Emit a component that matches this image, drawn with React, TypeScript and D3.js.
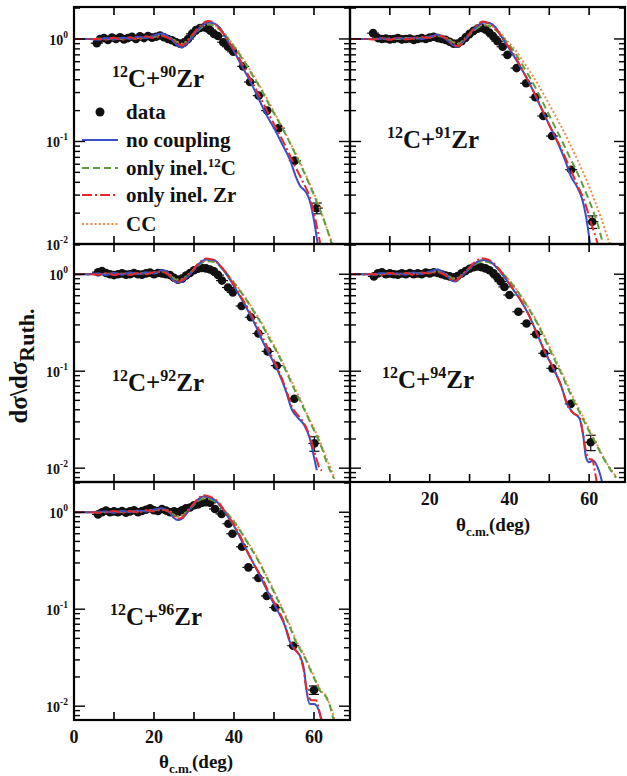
import React from 'react';
import * as d3 from 'd3';

type P = [number, number];
type D = [number, number, number];

const FONT = '"Liberation Serif", "Times New Roman", serif';

// shared axis settings
const thetaDomain: [number, number] = [0, 69];
const thetaTicks = [10, 20, 30, 40, 50, 60];

// ---- measured elastic ratios: [theta, dσ/dσRuth, relative error] ----
const data90: D[] = [[5.7,0.91,0.03],[6.5,1.0,0.03],[7.5,1.02,0.03],[8.5,0.98,0.03],[9.5,1.03,0.03],[10.5,1.0,0.03],[11.5,1.04,0.03],[12.5,0.99,0.03],[13.5,1.02,0.03],[14.5,1.05,0.03],[15.5,1.0,0.03],[16.5,1.06,0.03],[17.5,1.02,0.03],[18.5,1.07,0.03],[19.5,1.03,0.03],[20.5,1.05,0.03],[21.5,1.08,0.03],[22.5,1.04,0.03],[23.5,1.0,0.03],[24.5,0.97,0.03],[25.5,0.93,0.03],[26.5,0.9,0.03],[27.5,0.92,0.03],[28.5,1.0,0.03],[29.5,1.12,0.03],[30.5,1.22,0.03],[31.5,1.28,0.03],[32.5,1.3,0.03],[33.3,1.27,0.03],[34,1.22,0.03],[35,1.12,0.03],[36,1.07,0.03],[37.3,0.93,0.04],[38.5,0.84,0.04],[39.8,0.75,0.04],[42.3,0.54,0.05],[44,0.38,0.05],[46.2,0.28,0.05],[48.3,0.2,0.05],[51.2,0.135,0.06],[55.2,0.065,0.07],[60.7,0.0224,0.12]];
const data91: D[] = [[5.8,1.14,0.03],[7,1.02,0.03],[8,1.0,0.03],[9,1.01,0.03],[10,0.99,0.03],[11,1.0,0.03],[12,1.02,0.03],[13,0.99,0.03],[14,1.0,0.03],[15,1.01,0.03],[16,0.98,0.03],[17,1.0,0.03],[18,1.02,0.03],[19,1.0,0.03],[20,1.03,0.03],[21,1.05,0.03],[22,1.02,0.03],[23,1.0,0.03],[24,0.98,0.03],[25,0.94,0.03],[26,0.9,0.03],[27,0.9,0.03],[28,0.95,0.03],[29,1.03,0.03],[30,1.12,0.03],[31,1.2,0.03],[32,1.26,0.03],[33,1.28,0.03],[34,1.24,0.03],[35,1.15,0.03],[36,1.05,0.03],[37,0.95,0.04],[38.3,0.84,0.04],[39.5,0.7,0.04],[41.8,0.52,0.05],[44.2,0.37,0.05],[46.5,0.27,0.05],[48.5,0.177,0.05],[50.7,0.113,0.06],[55.5,0.053,0.07],[60.8,0.0165,0.14]];
const data92: D[] = [[6,1.05,0.03],[7,1.08,0.03],[8,1.03,0.03],[9,1.0,0.03],[10,0.98,0.03],[11,1.0,0.03],[12,1.02,0.03],[13,0.99,0.03],[14,1.0,0.03],[15,1.03,0.03],[16,1.0,0.03],[17,0.99,0.03],[18,1.02,0.03],[19,1.04,0.03],[20,1.0,0.03],[21,1.03,0.03],[22,1.02,0.03],[23,1.0,0.03],[24,0.98,0.03],[25,0.92,0.03],[26,0.88,0.03],[27,0.9,0.03],[28,0.97,0.03],[29,1.03,0.03],[30,1.1,0.03],[31,1.14,0.03],[32,1.16,0.03],[33,1.15,0.03],[34,1.12,0.03],[35,1.07,0.03],[36,0.98,0.03],[37,0.86,0.04],[38.5,0.73,0.04],[39.7,0.65,0.04],[41.9,0.47,0.05],[44.2,0.36,0.05],[46.1,0.245,0.05],[48.4,0.16,0.05],[50.7,0.114,0.06],[55.1,0.052,0.07],[60.1,0.018,0.17]];
const data94: D[] = [[6,0.95,0.03],[7,1.02,0.03],[8,1.05,0.03],[9,1.0,0.03],[10,1.02,0.03],[11,1.0,0.03],[12,0.99,0.03],[13,1.02,0.03],[14,1.0,0.03],[15,1.03,0.03],[16,1.0,0.03],[17,1.02,0.03],[18,1.0,0.03],[19,1.04,0.03],[20,1.02,0.03],[21,1.05,0.03],[22,1.03,0.03],[23,1.0,0.03],[24,0.97,0.03],[25,0.95,0.03],[26,0.93,0.03],[27,0.96,0.03],[28,1.02,0.03],[29,1.08,0.03],[30,1.14,0.03],[31,1.18,0.03],[32,1.2,0.03],[33,1.18,0.03],[34,1.15,0.03],[35,1.1,0.03],[36,1.02,0.03],[37,0.92,0.04],[37.8,0.84,0.04],[38.75,0.74,0.04],[40,0.61,0.04],[42.25,0.41,0.05],[44.3,0.31,0.05],[46.7,0.24,0.05],[48.75,0.153,0.05],[50.8,0.107,0.06],[55.4,0.046,0.07],[60.4,0.0185,0.18]];
const data96: D[] = [[6,0.95,0.03],[7,1.0,0.03],[8,1.04,0.03],[9,1.0,0.03],[10,1.02,0.03],[11,1.0,0.03],[12,1.03,0.03],[13,0.99,0.03],[14,1.02,0.03],[15,1.05,0.03],[16,1.0,0.03],[17,1.03,0.03],[18,1.06,0.03],[19,1.1,0.03],[20,1.05,0.03],[21,1.03,0.03],[22,1.08,0.03],[23,1.04,0.03],[24,1.0,0.03],[25,1.02,0.03],[26,1.0,0.03],[27,1.05,0.03],[28,1.1,0.03],[29,1.12,0.03],[30,1.18,0.03],[31,1.2,0.03],[32,1.25,0.03],[33,1.27,0.03],[34,1.25,0.03],[35.25,1.08,0.04],[36.9,0.96,0.04],[38.6,0.76,0.04],[39.6,0.6,0.04],[42,0.44,0.05],[43.6,0.27,0.05],[46.1,0.21,0.05],[48.2,0.137,0.05],[50.3,0.104,0.06],[54.8,0.042,0.07],[60,0.0147,0.1]];

// ---- calculated angular distributions: [theta, ratio] ----
const noCoupling90: P[] = [[0,1.0],[4,1.0],[6,0.98],[8,1.02],[10,0.99],[12,1.03],[14,1.0],[16,1.05],[18,1.02],[20,1.08],[22,1.13],[24,1.02],[26,0.86],[27,0.82],[28,0.88],[30,1.1],[32,1.35],[33.5,1.45],[35,1.42],[36.5,1.28],[38,1.02],[40,0.76],[42,0.54],[44,0.39],[46,0.27],[48,0.185],[50,0.135],[52,0.095],[54,0.066],[55.5,0.045],[56.5,0.037],[58,0.032],[59,0.026],[60,0.017],[61,0.0095]];
const only12C90: P[] = [[0,1.0],[4,1.0],[6,1.01],[8,0.99],[10,1.02],[12,1.0],[14,1.03],[16,1.0],[18,1.04],[20,1.05],[22,1.08],[24,1.02],[26,0.92],[27,0.88],[28,0.92],[30,1.1],[32,1.3],[33.5,1.38],[35,1.35],[37,1.18],[39,0.95],[41,0.74],[43,0.56],[45,0.42],[47,0.31],[49,0.22],[51,0.16],[53,0.115],[55,0.08],[57,0.055],[59,0.037],[61,0.024],[63,0.015],[64.5,0.0098]];
const onlyZr90: P[] = [[0,1.0],[4,1.0],[6,1.0],[8,0.98],[10,1.03],[12,0.98],[14,1.04],[16,0.99],[18,1.06],[20,1.02],[22,1.07],[24,1.0],[26,0.9],[27,0.86],[28,0.92],[30,1.15],[32,1.4],[33.5,1.5],[35,1.43],[37,1.18],[39,0.9],[41,0.68],[43,0.49],[45,0.35],[47,0.25],[49,0.175],[51,0.125],[53,0.088],[55,0.06],[57,0.042],[59,0.028],[60,0.02],[61,0.013],[61.7,0.0095]];
const cc90: P[] = [[0,1.0],[4,1.0],[6,1.0],[8,1.01],[10,0.99],[12,1.02],[14,1.01],[16,1.02],[18,1.03],[20,1.06],[22,1.1],[24,1.03],[26,0.93],[27,0.9],[28,0.94],[30,1.12],[32,1.32],[33.5,1.4],[35,1.36],[37,1.2],[39,0.97],[41,0.76],[43,0.58],[45,0.43],[47,0.32],[49,0.23],[51,0.165],[53,0.118],[55,0.082],[57,0.057],[59,0.038],[61,0.025],[63,0.015],[64.8,0.0095]];

const noCoupling91: P[] = [[0,1.0],[4,1.0],[6,1.0],[8,1.01],[10,0.99],[12,1.02],[14,1.0],[16,1.03],[18,1.0],[20,1.05],[22,1.1],[24,1.0],[26,0.86],[27,0.84],[28,0.9],[30,1.12],[32,1.35],[33.5,1.45],[35,1.43],[36.5,1.3],[38,1.05],[40,0.8],[42,0.6],[44,0.44],[46,0.31],[48,0.21],[50,0.145],[52,0.1],[54,0.065],[55.5,0.045],[57,0.036],[58.3,0.027],[59.5,0.016],[60.3,0.0095]];
const only12C91: P[] = [[0,1.0],[4,1.0],[6,1.0],[8,1.0],[10,1.01],[12,1.0],[14,1.02],[16,1.01],[18,1.02],[20,1.04],[22,1.07],[24,1.02],[26,0.92],[27,0.89],[28,0.93],[30,1.1],[32,1.28],[33.5,1.36],[35,1.33],[37,1.18],[39,0.97],[41,0.77],[43,0.58],[45,0.43],[47,0.31],[49,0.215],[51,0.15],[53,0.105],[55,0.072],[57,0.05],[59,0.033],[61,0.021],[62.5,0.014],[63.5,0.0098]];
const onlyZr91: P[] = [[0,1.0],[4,1.0],[6,0.99],[8,1.02],[10,0.98],[12,1.03],[14,0.99],[16,1.02],[18,1.04],[20,1.03],[22,1.08],[24,1.02],[26,0.88],[27,0.85],[28,0.9],[30,1.13],[32,1.38],[33.3,1.48],[35,1.41],[37,1.2],[39,0.93],[41,0.72],[43,0.52],[45,0.37],[47,0.26],[49,0.175],[51,0.12],[53,0.085],[55,0.057],[57,0.038],[59,0.025],[60.5,0.016],[61.7,0.0115],[62.2,0.0098]];
const cc91: P[] = [[0,1.0],[4,1.0],[6,1.0],[8,1.01],[10,1.0],[12,1.01],[14,1.02],[16,1.01],[18,1.03],[20,1.05],[22,1.08],[24,1.03],[26,0.93],[27,0.9],[28,0.94],[30,1.12],[32,1.3],[33.5,1.38],[35,1.36],[37,1.22],[39,1.0],[41,0.82],[43,0.64],[45,0.49],[47,0.37],[49,0.27],[51,0.195],[53,0.14],[55,0.098],[57,0.067],[59,0.045],[61,0.029],[63,0.018],[65,0.0105],[65.3,0.0098]];

const noCoupling92: P[] = [[0,1.0],[4,1.0],[6,1.02],[8,0.98],[10,1.03],[12,0.99],[14,1.04],[16,1.0],[18,1.05],[20,1.02],[22,1.1],[23,1.08],[25,0.85],[26,0.82],[27,0.84],[29,1.0],[31,1.25],[33,1.42],[35,1.4],[37,1.15],[39,0.88],[41,0.64],[43,0.46],[45,0.32],[47,0.21],[49,0.145],[51,0.1],[53,0.062],[54.5,0.04],[56,0.033],[57.5,0.028],[59,0.02],[60,0.013],[60.7,0.0095]];
const only12C92: P[] = [[0,1.0],[4,1.0],[6,1.01],[8,1.0],[10,1.02],[12,1.0],[14,1.02],[16,1.01],[18,1.03],[20,1.03],[22,1.06],[24,0.98],[25,0.9],[26,0.87],[27,0.88],[29,1.02],[31,1.22],[33,1.36],[35,1.34],[37,1.15],[39,0.92],[41,0.72],[43,0.55],[45,0.41],[47,0.3],[49,0.21],[51,0.15],[53,0.1],[55,0.066],[57,0.045],[59,0.03],[61,0.02],[62,0.016],[63,0.012],[64,0.0095],[65,0.0078]];
const onlyZr92: P[] = [[0,1.0],[4,1.0],[6,0.99],[8,1.03],[10,0.98],[12,1.02],[14,0.98],[16,1.03],[18,1.0],[20,1.05],[22,1.06],[24,0.95],[25,0.86],[26,0.84],[27,0.87],[29,1.02],[31,1.28],[33,1.45],[35,1.4],[37,1.17],[39,0.9],[41,0.66],[43,0.48],[45,0.34],[47,0.23],[49,0.155],[51,0.105],[53,0.065],[54.5,0.043],[56,0.035],[57.5,0.029],[59,0.021],[60.5,0.013],[61.5,0.0098],[62,0.0095]];
const cc92: P[] = [[0,1.0],[4,1.0],[6,1.0],[8,1.01],[10,1.01],[12,1.01],[14,1.02],[16,1.02],[18,1.03],[20,1.04],[22,1.07],[24,0.99],[25,0.91],[26,0.88],[27,0.89],[29,1.03],[31,1.24],[33,1.38],[35,1.36],[37,1.17],[39,0.93],[41,0.73],[43,0.56],[45,0.42],[47,0.31],[49,0.22],[51,0.155],[53,0.105],[55,0.07],[57,0.047],[59,0.031],[61,0.021],[63,0.013],[64.5,0.0092],[65.2,0.0078]];

const noCoupling94: P[] = [[0,1.0],[4,1.0],[6,0.99],[8,1.03],[10,1.0],[12,1.02],[14,0.99],[16,1.04],[18,1.01],[20,1.06],[22,1.12],[24,1.0],[25.5,0.86],[26.5,0.84],[28,0.95],[30,1.15],[32,1.35],[33.5,1.4],[35,1.36],[37,1.15],[39,0.9],[41,0.69],[43,0.52],[45,0.37],[47,0.24],[49,0.155],[51,0.108],[53,0.07],[54.5,0.046],[56,0.037],[57.5,0.033],[58.5,0.022],[59.2,0.013],[60,0.0115],[61,0.012],[62,0.0105],[62.8,0.0085],[63.3,0.007]];
const only12C94: P[] = [[0,1.0],[4,1.0],[6,1.0],[8,1.01],[10,1.01],[12,1.0],[14,1.02],[16,1.01],[18,1.03],[20,1.04],[22,1.07],[24,1.0],[25.5,0.91],[26.5,0.89],[28,0.97],[30,1.14],[32,1.3],[33.5,1.35],[35,1.32],[37,1.15],[39,0.95],[41,0.76],[43,0.58],[45,0.43],[47,0.31],[49,0.21],[51,0.14],[53,0.095],[55,0.062],[56.5,0.046],[58,0.035],[60,0.024],[61.7,0.018],[63,0.014],[64.5,0.011],[65.8,0.009],[66.8,0.008]];
const onlyZr94: P[] = [[0,1.0],[4,1.0],[6,1.0],[8,0.98],[10,1.03],[12,0.99],[14,1.03],[16,0.98],[18,1.04],[20,1.02],[22,1.05],[24,0.97],[25.5,0.88],[26.5,0.86],[28,0.97],[30,1.18],[32,1.4],[33,1.46],[35,1.4],[37,1.18],[39,0.92],[41,0.7],[43,0.53],[45,0.37],[47,0.24],[49,0.155],[51,0.108],[53,0.07],[54.5,0.045],[56,0.037],[57.5,0.034],[58.5,0.022],[59.2,0.015],[60,0.0125],[60.8,0.0122],[61.5,0.009],[61.9,0.0072]];
const cc94: P[] = [[0,1.0],[4,1.0],[6,1.01],[8,1.0],[10,1.02],[12,1.01],[14,1.01],[16,1.02],[18,1.02],[20,1.05],[22,1.08],[24,1.01],[25.5,0.92],[26.5,0.9],[28,0.98],[30,1.15],[32,1.32],[33.5,1.37],[35,1.34],[37,1.17],[39,0.96],[41,0.77],[43,0.59],[45,0.44],[47,0.32],[49,0.22],[51,0.148],[53,0.1],[55,0.066],[56.5,0.049],[58,0.037],[60,0.025],[61.7,0.0185],[63,0.0145],[64.5,0.0112],[66,0.009],[66.8,0.0082]];

const noCoupling96: P[] = [[0,1.0],[4,1.0],[6,1.0],[8,1.02],[10,0.99],[12,1.03],[14,1.0],[16,1.04],[18,1.02],[20,1.06],[22,1.1],[24,0.98],[25,0.87],[26,0.83],[27,0.86],[29,1.08],[31,1.35],[32.3,1.45],[34,1.42],[36,1.25],[38,0.96],[40,0.72],[42,0.5],[43.5,0.38],[45,0.29],[47,0.2],[49,0.135],[51,0.095],[52.8,0.066],[53.8,0.048],[54.8,0.04],[56.5,0.033],[57.5,0.024],[58.3,0.013],[59,0.0105],[60,0.0105],[61,0.0095],[61.8,0.0075],[62.1,0.007]];
const only12C96: P[] = [[0,1.0],[4,1.0],[6,1.0],[8,1.01],[10,1.0],[12,1.02],[14,1.01],[16,1.03],[18,1.03],[20,1.05],[22,1.07],[24,1.01],[25,0.93],[26,0.9],[27,0.92],[29,1.08],[31,1.3],[32.3,1.38],[34,1.36],[36,1.22],[38,1.0],[40,0.8],[42,0.6],[44,0.44],[46,0.32],[48,0.22],[50,0.15],[52,0.1],[54,0.065],[55.7,0.044],[57.5,0.033],[59,0.024],[60.7,0.017],[61.7,0.014],[63,0.0125],[64,0.01],[64.8,0.0075],[65,0.007]];
const onlyZr96: P[] = [[0,1.0],[4,1.0],[6,0.99],[8,1.0],[10,1.03],[12,0.98],[14,1.03],[16,0.99],[18,1.05],[20,1.02],[22,1.06],[24,1.0],[25,0.9],[26,0.86],[27,0.88],[29,1.1],[31,1.38],[32.3,1.5],[34,1.45],[36,1.28],[38,0.98],[40,0.74],[42,0.52],[43.5,0.38],[45,0.29],[47,0.21],[49,0.14],[51,0.1],[52.8,0.068],[53.8,0.05],[54.8,0.041],[56.5,0.032],[57.3,0.025],[58.3,0.0137],[59.5,0.0115],[60.5,0.0115],[61.3,0.009],[61.8,0.0072]];
const cc96: P[] = [[0,1.0],[4,1.0],[6,1.01],[8,1.0],[10,1.01],[12,1.01],[14,1.02],[16,1.02],[18,1.04],[20,1.06],[22,1.08],[24,1.02],[25,0.94],[26,0.91],[27,0.93],[29,1.1],[31,1.32],[32.3,1.4],[34,1.38],[36,1.24],[38,1.01],[40,0.81],[42,0.61],[44,0.45],[46,0.33],[48,0.225],[50,0.155],[52,0.104],[54,0.068],[55.7,0.046],[57.5,0.034],[59,0.025],[60.7,0.0175],[61.7,0.0145],[63,0.0128],[64,0.0102],[64.9,0.0078],[65.1,0.007]];

// ---- series styles ----
const seriesNames = ['no coupling', 'only inel.', 'only inel. Zr', 'CC'];
const styles = {
  cc: { stroke: '#ef8d45', dash: '2,2.2', width: 2 },
  c12: { stroke: '#5e9f3c', dash: '7,4', width: 2 },
  none: { stroke: '#3a4ec6', dash: '', width: 2 },
  zr: { stroke: '#e5282c', dash: '10,3,2,3', width: 2 },
};

type Panel = {
  id: string;
  mass: string;
  x0: number; x1: number; y0: number; y1: number;
  yMin: number; yMax: number;
  data: D[];
  none: P[]; c12: P[]; zr: P[]; cc: P[];
  yLabels: boolean;
  xLabels: number[];
  labelX: number; labelY: number;
};

const panels: Panel[] = [
  { id: 'p90', mass: '90', x0: 74, x1: 350, y0: 7, y1: 244, yMin: 0.01, yMax: 2.05, data: data90, none: noCoupling90, c12: only12C90, zr: onlyZr90, cc: cc90, yLabels: true, xLabels: [], labelX: 112, labelY: 87 },
  { id: 'p91', mass: '91', x0: 350, x1: 625, y0: 7, y1: 244, yMin: 0.01, yMax: 2.05, data: data91, none: noCoupling91, c12: only12C91, zr: onlyZr91, cc: cc91, yLabels: false, xLabels: [], labelX: 387, labelY: 148 },
  { id: 'p92', mass: '92', x0: 74, x1: 350, y0: 244, y1: 482, yMin: 0.0072, yMax: 2.05, data: data92, none: noCoupling92, c12: only12C92, zr: onlyZr92, cc: cc92, yLabels: true, xLabels: [], labelX: 112, labelY: 391 },
  { id: 'p94', mass: '94', x0: 350, x1: 625, y0: 244, y1: 482, yMin: 0.0072, yMax: 2.05, data: data94, none: noCoupling94, c12: only12C94, zr: onlyZr94, cc: cc94, yLabels: false, xLabels: [20, 40, 60], labelX: 382, labelY: 388 },
  { id: 'p96', mass: '96', x0: 74, x1: 350, y0: 482, y1: 720, yMin: 0.0072, yMax: 2.05, data: data96, none: noCoupling96, c12: only12C96, zr: onlyZr96, cc: cc96, yLabels: true, xLabels: [0, 20, 40, 60], labelX: 110, labelY: 625 },
];

function PanelView({ p }: { p: Panel }) {
  const x = d3.scaleLinear().domain(thetaDomain).range([p.x0, p.x1]);
  const y = d3.scaleLog().domain([p.yMin, p.yMax]).range([p.y1, p.y0]);
  const line = d3.line<P>().x(d => x(d[0])).y(d => y(d[1])).curve(d3.curveMonotoneX);
  const yTicks = y.ticks();
  const decades = yTicks.filter(t => Math.abs(Math.log10(t) - Math.round(Math.log10(t))) < 1e-9);
  const clip = `clip-${p.id}`;
  const order: (keyof typeof styles)[] = ['cc', 'c12', 'none', 'zr'];
  return (
    <g>
      <defs>
        <clipPath id={clip}>
          <rect x={p.x0} y={p.y0} width={p.x1 - p.x0} height={p.y1 - p.y0} />
        </clipPath>
      </defs>
      <g clipPath={`url(#${clip})`}>
        {p.data.map((d, i) => {
          const cx = x(d[0]);
          const cy = y(d[1]);
          const hi = y(d[1] * (1 + d[2]));
          const lo = y(d[1] * (1 - d[2]));
          return (
            <g key={i} stroke="#111" strokeWidth={1.2}>
              <line x1={cx - 6} x2={cx + 6} y1={cy} y2={cy} />
              <line x1={cx} x2={cx} y1={hi} y2={lo} />
              {d[2] > 0.08 && (
                <>
                  <line x1={cx - 5} x2={cx + 5} y1={hi} y2={hi} />
                  <line x1={cx - 5} x2={cx + 5} y1={lo} y2={lo} />
                </>
              )}
              <circle cx={cx} cy={cy} r={4.3} fill="#111" stroke="none" />
            </g>
          );
        })}
        {order.map(k => (
          <path key={k} d={line(p[k]) || ''} fill="none" stroke={styles[k].stroke}
            strokeWidth={styles[k].width} strokeDasharray={styles[k].dash} />
        ))}
      </g>
      {/* theta ticks, top and bottom, pointing inward */}
      {thetaTicks.map(t => (
        <g key={t} stroke="#000" strokeWidth={1.6}>
          <line x1={x(t)} x2={x(t)} y1={p.y0} y2={p.y0 + 8} />
          <line x1={x(t)} x2={x(t)} y1={p.y1} y2={p.y1 - 8} />
        </g>
      ))}
      {/* log ticks on both sides */}
      {yTicks.map(t => {
        const major = decades.includes(t);
        const len = major ? 11 : 6;
        const yy = y(t);
        if (yy < p.y0 + 1 || yy > p.y1 - 1) return null;
        return (
          <g key={t} stroke="#000" strokeWidth={1.4}>
            <line x1={p.x0} x2={p.x0 + len} y1={yy} y2={yy} />
            <line x1={p.x1} x2={p.x1 - len} y1={yy} y2={yy} />
          </g>
        );
      })}
      <rect x={p.x0} y={p.y0} width={p.x1 - p.x0} height={p.y1 - p.y0} fill="none" stroke="#000" strokeWidth={2.2} />
      {p.yLabels && decades.map(t => (
        <text key={t} x={68} y={y(t) + 6} textAnchor="end" fontFamily={FONT} fontWeight="bold" fontSize={14} fill="#111">
          10<tspan dy={-7} fontSize={9.5}>{String(Math.round(Math.log10(t)))}</tspan>
        </text>
      ))}
      {p.xLabels.map(t => (
        <text key={t} x={x(t)} y={p.y1 + 23} textAnchor="middle" fontFamily={FONT} fontWeight="bold" fontSize={18} fill="#111">{t}</text>
      ))}
      <text x={p.labelX} y={p.labelY} fontFamily={FONT} fontWeight="bold" fontSize={25} fill="#111">
        <tspan fontSize={16} dy={-10}>12</tspan>
        <tspan dy={10}>C+</tspan>
        <tspan fontSize={16} dy={-10}>{p.mass}</tspan>
        <tspan dy={10}>Zr</tspan>
      </text>
    </g>
  );
}

function Legend() {
  const x0 = 82, x1 = 118, tx = 126;
  const rows = [112, 140, 168, 195, 224];
  const keys: (keyof typeof styles)[] = ['none', 'c12', 'zr', 'cc'];
  const txt = { fontFamily: FONT, fontWeight: 'bold' as const, fontSize: 21, fill: '#111' };
  return (
    <g>
      <circle cx={100} cy={rows[0]} r={4.5} fill="#111" />
      <text x={tx} y={rows[0] + 7} {...txt}>data</text>
      {keys.map((k, i) => (
        <line key={k} x1={x0} x2={x1} y1={rows[i + 1]} y2={rows[i + 1]} stroke={styles[k].stroke}
          strokeWidth={2} strokeDasharray={styles[k].dash} />
      ))}
      <text x={tx} y={rows[1] + 7} {...txt}>{seriesNames[0]}</text>
      <text x={tx} y={rows[2] + 7} {...txt}>{seriesNames[1]}<tspan fontSize={13} dy={-8}>12</tspan><tspan dy={8}>C</tspan></text>
      <text x={tx} y={rows[3] + 7} {...txt}>{seriesNames[2]}</text>
      <text x={tx} y={rows[4] + 7} {...txt}>{seriesNames[3]}</text>
    </g>
  );
}

function ThetaTitle({ x, y }: { x: number; y: number }) {
  return (
    <text x={x} y={y} fontFamily={FONT} fontWeight="bold" fontSize={19} fill="#111">
      θ<tspan fontSize={13} dy={5}>c.m.</tspan><tspan dy={-5}>(deg)</tspan>
    </text>
  );
}

export default function App() {
  return (
    <svg width={627} height={776} style={{ position: 'absolute', left: 0, top: 0, background: '#fff' }}>
      <rect x={0} y={0} width={627} height={776} fill="#fff" />
      {panels.map(p => <PanelView key={p.id} p={p} />)}
      <Legend />
      <text transform="translate(27,366) rotate(-90)" textAnchor="middle" fontFamily={FONT} fontWeight="bold" fontSize={25} fill="#111">
        dσ\dσ<tspan fontSize={22} dy={7}>Ruth.</tspan>
      </text>
      <ThetaTitle x={456} y={531} />
      <ThetaTitle x={159} y={768} />
    </svg>
  );
}
